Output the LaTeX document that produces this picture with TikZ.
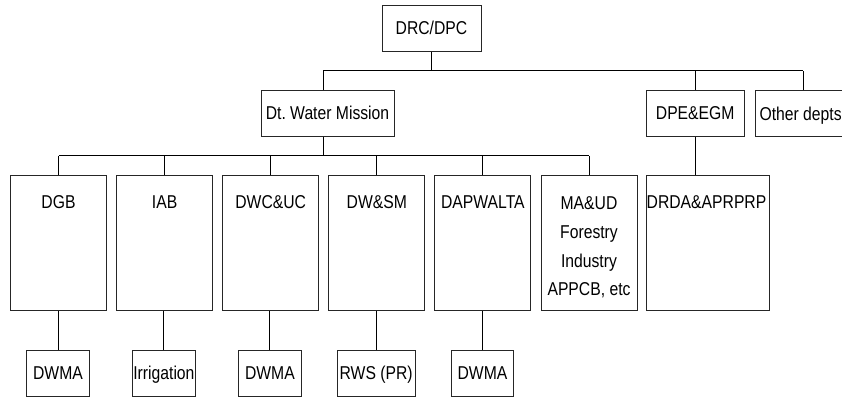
\documentclass[tikz,border=0pt]{standalone}
\usepackage{fontspec}
\setmainfont{Liberation Sans}[FakeStretch=0.845]
\begin{document}
\begin{tikzpicture}[x=1pt,y=-1pt,
  every node/.append style={font=\fontsize{18.6}{22}\selectfont},
  box/.style={draw=black!85, line width=0.9pt, rectangle, inner sep=0pt,
    minimum height=46pt, text height=13.3pt, text depth=0pt},
  tall/.style={draw=black!85, line width=0.9pt, rectangle, inner sep=0pt,
    minimum width=96pt, minimum height=135pt},
  small/.style={box, minimum width=62.5pt, minimum height=46.5pt},
  lab/.style={inner sep=0pt, anchor=base},
  conn/.style={draw=black, line width=0.9pt}]
\useasboundingbox (0,0) rectangle (842,397);
\clip (0,0) rectangle (842,397);

% level 1
\node[box, minimum width=99pt, minimum height=45.7pt] (top) at (431.5,28.2) {DRC/DPC};

% level 2
\node[box, minimum width=133pt] (dwm) at (327.5,113.3) {Dt.\ Water Mission};
\node[box, minimum width=98.3pt] (dpe) at (695.2,113.3) {DPE\&EGM};
\node[box, minimum width=96pt] (oth) at (803,113.3) {};
\node[lab] (toth) at (800.6,120) {Other depts};

% level 3
\node[tall] (dgb) at (58.5,243.2) {};
\node[tall] (iab) at (164.6,243.2) {};
\node[tall] (dwc) at (270.7,243.2) {};
\node[tall] (dws) at (376.8,243.2) {};
\node[tall] (dap) at (482.9,243.2) {};
\node[tall] (maud) at (589.0,243.2) {};
\node[tall, minimum width=123.3pt] (drda) at (707.7,243.2) {};

\node[lab] (tdgb) at (58.5,208) {DGB};
\node[lab] (tiab) at (164.6,208) {IAB};
\node[lab] (tdwc) at (270.7,208) {DWC\&UC};
\node[lab] (tdws) at (376.8,208) {DW\&SM};
\node[lab] (tdap) at (482.9,208) {DAPWALTA};
\node[lab] (tma1) at (589.0,209) {MA\&UD};
\node[lab] (tma2) at (589.0,238) {Forestry};
\node[lab] (tma3) at (589.0,267.5) {Industry};
\node[lab] (tma4) at (589.0,295) {APPCB, etc};
\node[lab] (tdrda) at (706.5,208) {DRDA\&APRPRP};

% level 4
\node[small] (w1) at (58,373.2) {DWMA};
\node[small] (irr) at (163.9,373.2) {Irrigation};
\node[small] (w2) at (269.9,373.2) {DWMA};
\node[small, minimum width=77.7pt] (rws) at (376.2,373.2) {RWS (PR)};
\node[small] (w3) at (482.5,373.2) {DWMA};

% connectors
\coordinate (b1) at (323.3,70.7);
\coordinate (b1r) at (803,70.7);
\coordinate (b2) at (323.3,155.7);
\draw[conn] (b1) -- (b1r);
\draw[conn] (top.south) -- (top.south |- b1);
\draw[conn] (b1) -- (b1 |- dwm.north);
\draw[conn] (dpe.north) -- (dpe.north |- b1);
\draw[conn] (oth.north) -- (b1r);
\draw[conn] (b1 |- dwm.south) -- (b2);
\draw[conn] (dgb.north |- b2) -- (maud.north |- b2);
\foreach \n in {dgb,iab,dwc,dws,dap,maud}
  \draw[conn] (\n.north) -- (\n.north |- b2);
\draw[conn] (dpe.south) -- (dpe.south |- drda.north);
\draw[conn] (w1.north) -- (w1.north |- dgb.south);
\draw[conn] (irr.north) -- (irr.north |- iab.south);
\draw[conn] (w2.north) -- (w2.north |- dwc.south);
\draw[conn] (rws.north) -- (rws.north |- dws.south);
\draw[conn] (w3.north) -- (w3.north |- dap.south);
\end{tikzpicture}
\end{document}
